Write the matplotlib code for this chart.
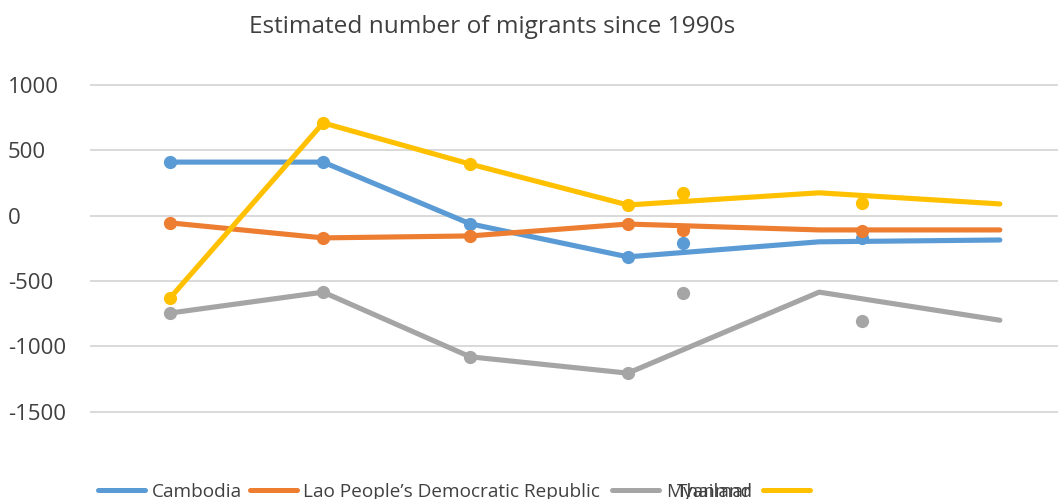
import matplotlib
matplotlib.use("Agg")
import matplotlib.pyplot as plt
from matplotlib.lines import Line2D

plt.rcParams['font.family'] = ['Open Sans', 'DejaVu Sans']

W, H = 1058, 499

title = "Estimated number of migrants since 1990s"
countries = ["Cambodia", "Lao People\u2019s Democratic Republic", "Myanmar", "Thailand"]
colors = ["#5B9BD5", "#ED7D31", "#A5A5A5", "#FFC000"]

# period positions for the connected series and for the loose points
x_line = [1, 2, 2.96, 3.99, 5.24, 6.42]
x_extra = [4.35, 5.52]

cambodia = [410, 410, -62, -315, -200, -186]
lao = [-55, -170, -155, -64, -109, -109]
myanmar = [-745, -585, -1080, -1205, -585, -800]
thailand = [-630, 710, 395, 82, 175, 90]

cambodia_extra = [-209, -171]
lao_extra = [-112, -118]
myanmar_extra = [-591, -805]
thailand_extra = [175, 97]

series = [cambodia, lao, myanmar, thailand]
extras = [cambodia_extra, lao_extra, myanmar_extra, thailand_extra]

yticks = [1000, 500, 0, -500, -1000, -1500]
ytick_labels = ["1000", "500", "0", "-500", "-1000", "-1500"]

text_color = "#404040"
grid_color = "#D9D9D9"

fig = plt.figure(figsize=(W / 100, H / 100), dpi=100)

ax_left, ax_right = 90, 1058
ax_top, ax_bottom = 82.4, 414.3
ax = fig.add_axes([ax_left / W, 1 - ax_bottom / H,
                   (ax_right - ax_left) / W, (ax_bottom - ax_top) / H])
ax.set_xlim(0.477, 6.80)
ax.set_ylim(-1520, 1020)

for s in ax.spines.values():
    s.set_visible(False)
ax.set_xticks([])
ax.set_yticks(yticks)
ax.set_yticklabels(ytick_labels)
ax.tick_params(axis='y', length=0, pad=59, labelsize=16, labelcolor=text_color)
for lab in ax.get_yticklabels():
    lab.set_horizontalalignment('left')
ax.grid(axis='y', color=grid_color, linewidth=1.4)
ax.set_axisbelow(True)

for i, (vals, ext, c) in enumerate(zip(series, extras, colors)):
    z = 3 + i
    ax.plot(x_line, vals, color=c, linewidth=3.7, marker='o', markersize=8.5,
            markevery=[0, 1, 2, 3], solid_capstyle='round',
            solid_joinstyle='round', zorder=z)
    ax.plot(x_extra, ext, linestyle='none', marker='o', markersize=8.5,
            color=c, zorder=z)

fig.text(492 / W, 1 - 33 / H, title, ha='center', va='baseline',
         fontsize=17.6, color=text_color)

# legend row
handle_x = [98, 250, 612, 763]
label_x = [152, 303, 666, 677]
leg_y = 1 - 490 / H
for hx, lx, name, c in zip(handle_x, label_x, countries, colors):
    fig.add_artist(Line2D([hx / W, (hx + 47) / W], [leg_y, leg_y],
                          transform=fig.transFigure, color=c,
                          linewidth=3.6, solid_capstyle='round'))
    fig.text(lx / W, 1 - 497 / H, name, ha='left', va='baseline',
             fontsize=13.7, color=text_color)

fig.savefig("out.png", dpi=100)
